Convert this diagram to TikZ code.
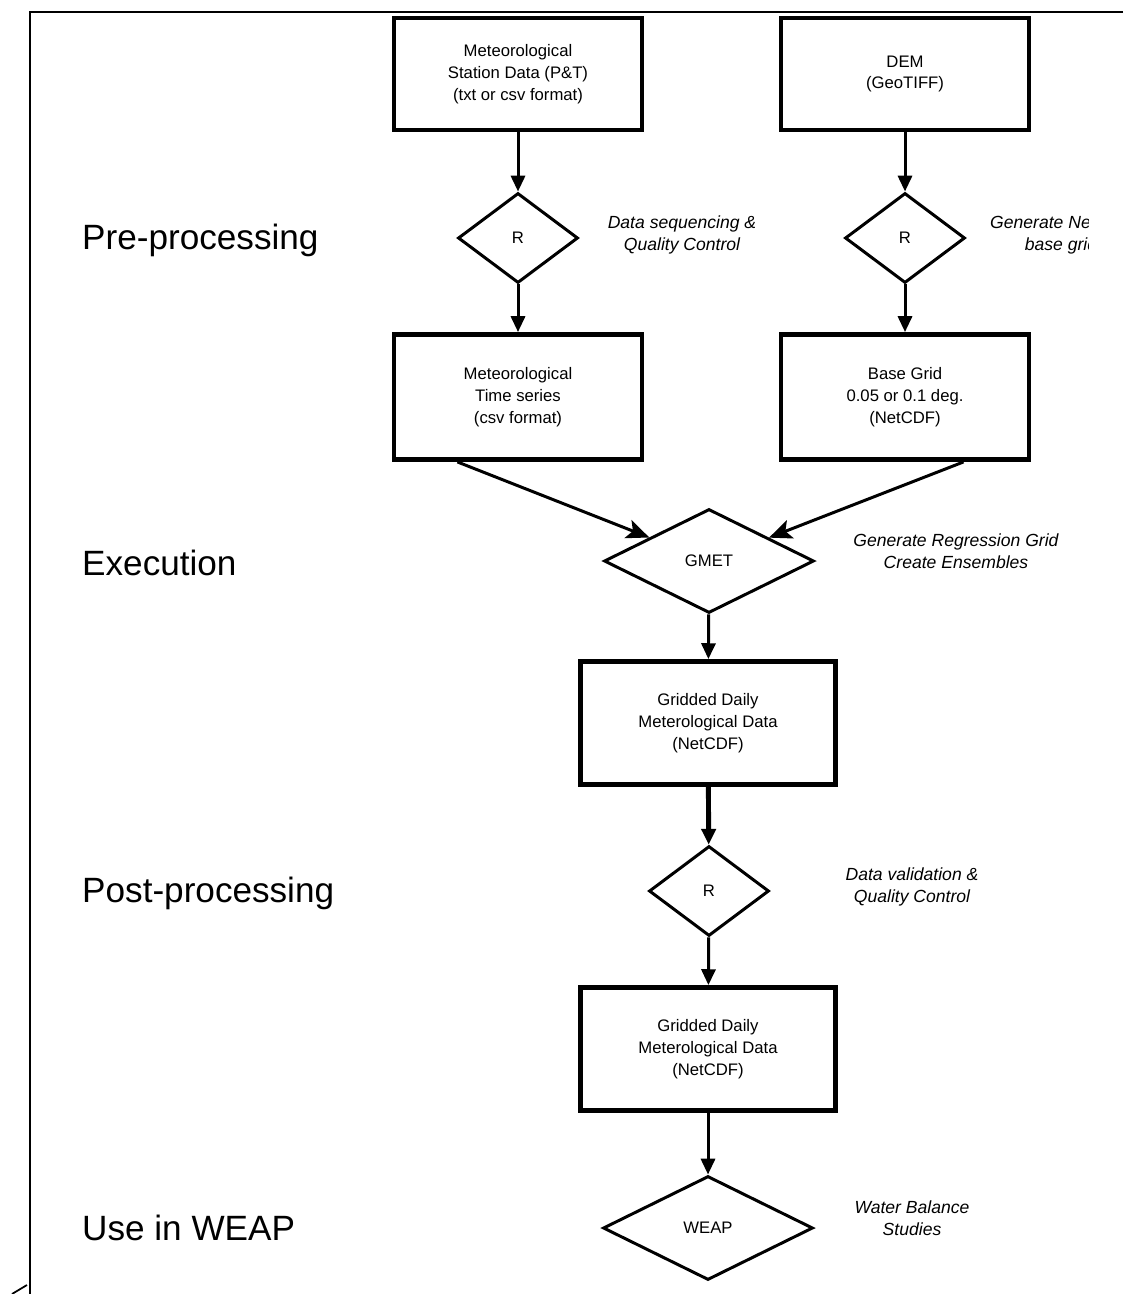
\documentclass[tikz,border=0pt]{standalone}
\usepackage{fontspec}
\setmainfont{Liberation Sans}
\usetikzlibrary{shapes.geometric,arrows.meta}

\begin{document}
\begin{tikzpicture}[x=0.02cm,y=-0.02cm,
    datbox/.style={draw,rectangle,line width=2.8pt,align=center,inner sep=0pt,font=\fontsize{9.5}{12.5}\selectfont},
    tool/.style={draw,diamond,line width=1.7pt,inner sep=0pt,font=\fontsize{9.5}{12.5}\selectfont},
    note/.style={align=center,font=\fontsize{10}{12.5}\selectfont\itshape},
    stage/.style={anchor=west,font=\fontsize{20}{24}\selectfont},
    flow/.style={line width=1.7pt,-{Triangle[length=9pt,width=8pt]}}]
  \useasboundingbox (0,0) rectangle (1123,1294);
  % frame
  \draw[line width=1.1pt] (1123,12) -- (30,12) -- (30,1294);
  \draw[line width=1pt] (12,1294) -- (27,1285);

  % stages
  \node[stage] (pre) at (76,240) {Pre-processing};
  \node[stage] (exe) at (76,563) {Execution};
  \node[stage] (post) at (76,893) {Post-processing};
  \node[stage] (use) at (76,1228) {Use in WEAP};

  % data and tools
  \node[datbox,minimum width=4.96cm,minimum height=2.24cm] (stn) at (518,74) {Meteorological\\Station Data (P\&T)\\(txt or csv format)};
  \node[datbox,minimum width=4.96cm,minimum height=2.24cm] (dem) at (905,74) {DEM\\(GeoTIFF)};
  \node[tool,minimum width=2.4cm,minimum height=1.8cm] (rq) at (518,238) {R};
  \node[tool,minimum width=2.4cm,minimum height=1.8cm] (rg) at (905,238) {R};
  \node[datbox,minimum width=4.96cm,minimum height=2.5cm] (mts) at (518,397) {Meteorological\\Time series\\(csv format)};
  \node[datbox,minimum width=4.96cm,minimum height=2.5cm] (bg) at (905,397) {Base Grid\\0.05 or 0.1 deg.\\(NetCDF)};
  \node[tool,minimum width=4.2cm,minimum height=2.08cm] (gmet) at (709,561) {GMET};
  \node[datbox,minimum width=5.1cm,minimum height=2.46cm] (grd) at (708,723) {Gridded Daily\\Meterological Data\\(NetCDF)};
  \node[tool,minimum width=2.4cm,minimum height=1.8cm] (rv) at (709,891) {R};
  \node[datbox,minimum width=5.1cm,minimum height=2.46cm] (out) at (708,1049) {Gridded Daily\\Meterological Data\\(NetCDF)};
  \node[tool,minimum width=4.2cm,minimum height=2.08cm] (weap) at (708,1228) {WEAP};

  % notes
  \node[note] (nq) at (682,235) {Data sequencing \&\\Quality Control};
  \begin{scope}
    \clip (0,0) rectangle (1088,1294);
    \node[note] (ng) at (1061,235) {Generate NetCDF\\base grid};
  \end{scope}
  \node[note] (nr) at (956,551) {Generate Regression Grid\\Create Ensembles};
  \node[note] (nv) at (912,887) {Data validation \&\\Quality Control};
  \node[note] (nw) at (912,1218) {Water Balance\\Studies};

  % flow
  \foreach \a/\b in {stn/rq,rq/mts,dem/rg,rg/bg,gmet/grd,rv/out,out/weap}
    \draw[flow] (\a) -- (\b);
  \draw[flow,line width=2.8pt] (grd) -- (rv);
  \draw[flow,-{Stealth[length=13pt,width=11pt,inset=3pt]}] (mts.-133) -- (gmet);
  \draw[flow,-{Stealth[length=13pt,width=11pt,inset=3pt]}] (bg.-48) -- (gmet);
\end{tikzpicture}
\end{document}
